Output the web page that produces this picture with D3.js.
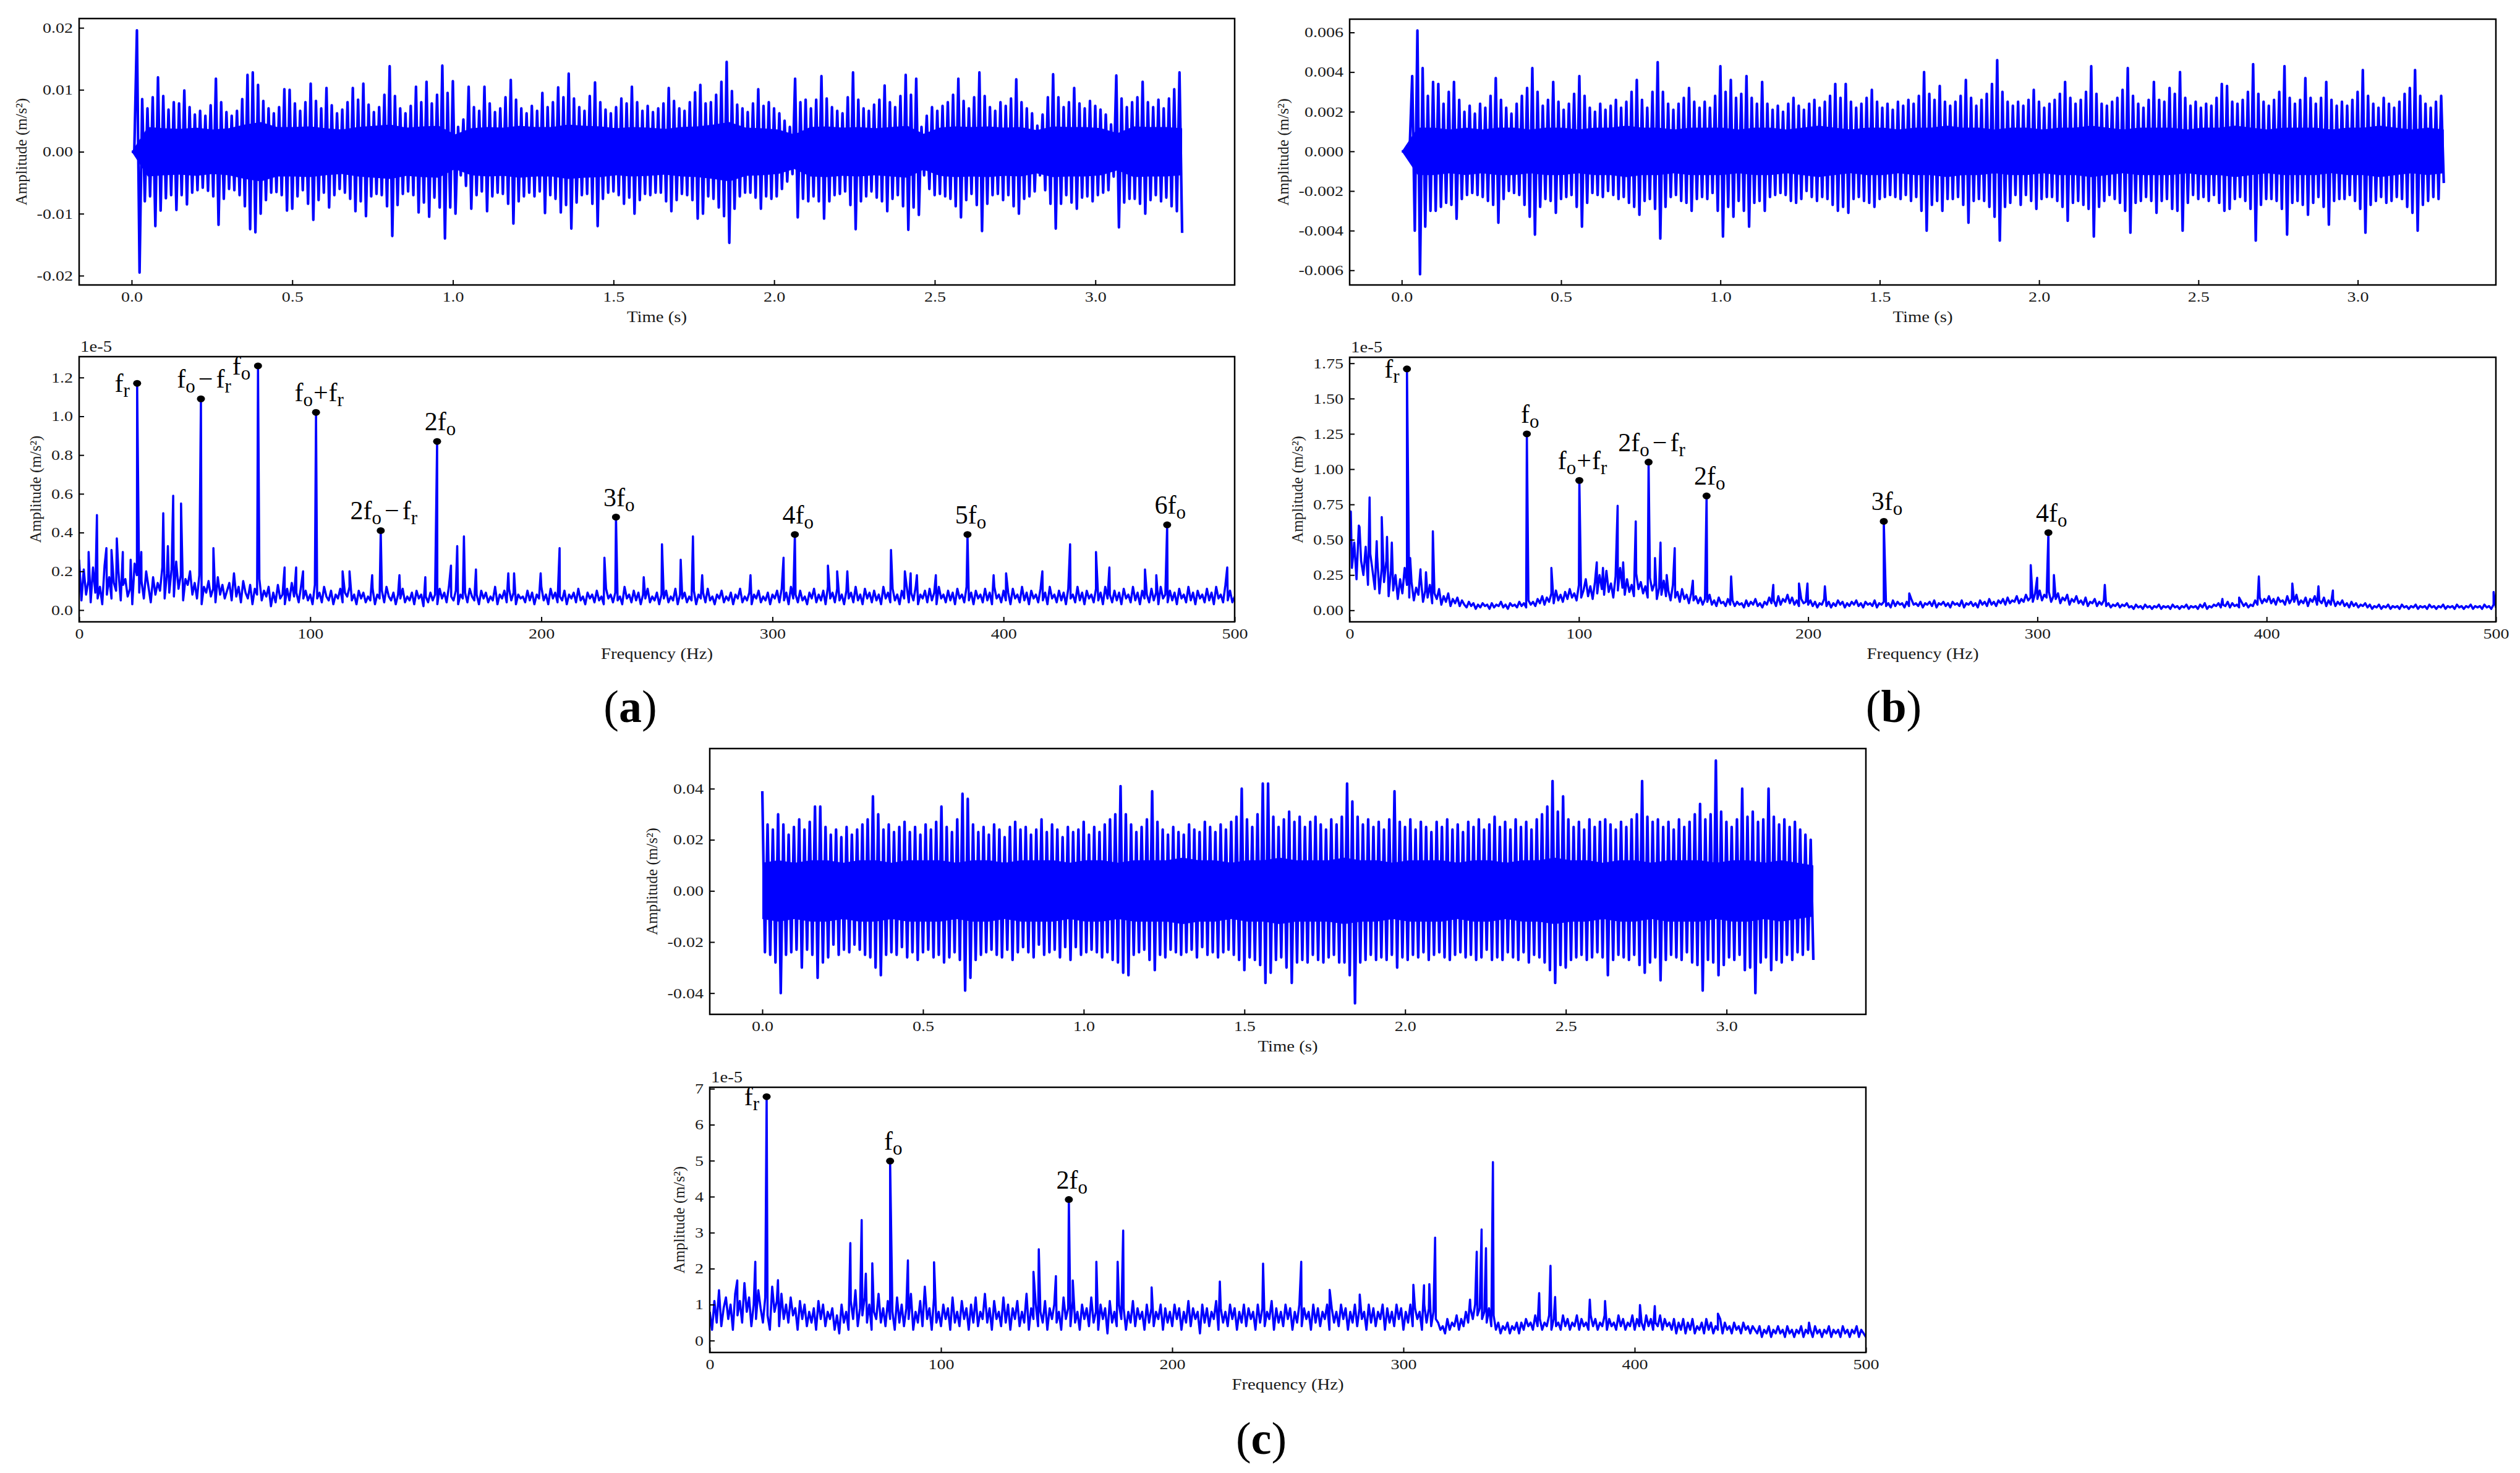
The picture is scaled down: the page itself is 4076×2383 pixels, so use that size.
<!DOCTYPE html>
<html>
<head>
<meta charset="utf-8">
<script src="https://cdn.jsdelivr.net/npm/d3@7"></script>
<style>
  body { margin: 0; background: #fff; }
</style>
</head>
<body>
<div id="chart"></div>
<script>
// Vibration signals (time domain) and their spectra for three cases (a), (b), (c)

var duration = 3.27; // record length (s)

// Tick values
var timeTicks = [0, 0.5, 1, 1.5, 2, 2.5, 3];
var freqTicks = [0, 100, 200, 300, 400, 500];
var yTicksA1 = [-0.02, -0.01, 0, 0.01, 0.02];
var yTicksA2 = [0, 0.2, 0.4, 0.6, 0.8, 1.0, 1.2];
var yTicksB1 = [-0.006, -0.004, -0.002, 0, 0.002, 0.004, 0.006];
var yTicksB2 = [0, 0.25, 0.5, 0.75, 1.0, 1.25, 1.5, 1.75];
var yTicksC1 = [-0.04, -0.02, 0, 0.02, 0.04];
var yTicksC2 = [0, 1, 2, 3, 4, 5, 6, 7];

// (a) time signal: successive peaks, units of 1e-4 m/s2
var timeA = [
  0,0,196,-195,85,-80,70,-72,88,-120,120,-95,90,-75,68,-70,80,-94,78,-70,
  99,-85,72,-66,60,-62,66,-58,58,-63,75,-72,118,-118,80,-76,64,-60,58,-62,
  66,-70,85,-88,124,-125,128,-130,108,-100,82,-78,70,-66,62,-65,72,-70,101,-95,
  100,-92,78,-72,66,-62,80,-84,110,-110,82,-78,70,-66,103,-90,75,-70,62,-60,
  68,-66,80,-76,103,-96,84,-80,110,-104,76,-72,64,-68,72,-70,92,-88,138,-136,
  90,-86,70,-68,62,-64,74,-70,105,-98,80,-82,113,-105,78,-74,92,-90,139,-140,
  95,-90,114,-100,40,-38,52,-55,105,-92,72,-70,66,-64,105,-96,78,-72,64,-66,
  70,-68,88,-84,116,-116,84,-80,70,-72,62,-66,74,-72,66,-64,95,-99,72,-70,
  80,-76,104,-98,88,-86,126,-124,86,-82,72,-70,66,-68,90,-84,112,-120,80,-76,
  68,-66,62,-64,72,-70,86,-84,78,-74,105,-100,80,-78,66,-68,74,-70,64,-66,
  70,-66,78,-80,103,-96,82,-78,70,-68,66,-70,80,-78,96,-108,108,-100,78,-72,
  80,-76,92,-90,113,-104,145,-147,98,-92,76,-72,70,-66,64,-66,78,-74,101,-92,
  74,-72,80,-76,70,-72,62,-60,50,-48,40,-36,118,-106,80,-76,84,-80,70,-72,
  84,-80,122,-108,86,-80,72,-70,66,-68,62,-64,88,-86,128,-125,84,-80,70,-72,
  66,-64,76,-74,84,-80,107,-96,80,-76,72,-70,90,-88,124,-126,92,-90,118,-102,
  40,-38,58,-60,72,-70,66,-68,74,-72,80,-76,92,-88,118,-106,82,-78,70,-68,
  88,-86,128,-128,90,-84,72,-70,66,-68,80,-78,74,-70,86,-88,117,-100,80,-76,
  70,-72,62,-64,42,-38,60,-62,88,-84,125,-124,88,-84,72,-70,80,-82,103,-92,
  78,-74,70,-72,82,-80,74,-70,68,-66,60,-62,44,-40,123,-122,86,-82,72,-76,
  80,-76,88,-84,113,-100,80,-78,72,-70,84,-80,70,-74,86,-88,101,-96,128,-131
];

// (b) time signal, units of 1e-4 m/s2
var timeB = [
  0,0,0,0,38,-40,61,-62,42,-38,28,-30,35,-30,34,-28,24,-26,30,-27,
  35,-34,26,-24,20,-22,23,-21,19,-22,24,-23,22,-25,28,-27,37,-36,26,-24,
  22,-20,19,-21,24,-22,28,-27,32,-33,42,-42,30,-28,23,-24,26,-25,35,-31,
  25,-24,21,-23,24,-22,29,-28,38,-38,28,-26,22,-21,20,-22,24,-23,21,-20,
  23,-22,26,-24,22,-23,25,-26,30,-28,36,-32,26,-25,22,-24,30,-29,45,-44,
  30,-28,24,-23,21,-22,24,-25,27,-26,32,-30,25,-24,22,-23,25,-24,22,-21,
  28,-30,43,-43,30,-28,36,-33,27,-25,29,-30,38,-38,27,-26,24,-25,35,-30,
  24,-23,21,-22,23,-21,20,-22,24,-25,27,-26,23,-24,21,-20,24,-23,26,-25,
  22,-23,25,-24,28,-27,34,-30,27,-28,34,-31,25,-24,22,-23,24,-25,27,-26,
  31,-28,25,-24,22,-23,24,-22,21,-23,25,-24,23,-22,26,-25,24,-23,28,-30,
  40,-40,29,-27,26,-25,33,-30,25,-24,23,-24,25,-23,28,-27,36,-36,27,-25,
  23,-24,26,-25,29,-28,34,-33,46,-45,30,-28,25,-26,23,-22,25,-27,23,-22,
  26,-25,31,-29,25,-24,22,-23,24,-23,26,-25,29,-28,35,-35,27,-26,24,-25,
  26,-27,30,-29,43,-43,29,-28,24,-25,23,-22,25,-24,27,-26,31,-30,42,-41,
  28,-26,24,-25,22,-23,26,-25,35,-31,26,-25,25,-24,32,-29,29,-30,40,-40,
  27,-26,23,-22,25,-24,22,-23,24,-25,23,-22,27,-26,34,-30,33,-29,25,-24,
  24,-23,26,-25,30,-29,44,-45,29,-27,25,-24,23,-24,26,-25,30,-29,43,-42,
  27,-26,24,-25,26,-27,37,-32,27,-26,24,-23,27,-28,35,-37,26,-25,23,-24,
  25,-24,23,-22,26,-25,30,-29,41,-41,28,-27,24,-25,22,-23,27,-26,24,-25,
  22,-23,25,-24,29,-28,32,-31,41,-40,28,-27,24,-25,22,-23,25,-24,28,-16
];

// (c) time signal, units of 1e-3 m/s2
var timeC = [
  39,-24,26,-25,24,-28,30,-40,26,-25,22,-24,25,-23,28,-30,24,-23,27,-25,
  33,-34,33,-28,25,-26,22,-21,24,-25,21,-23,25,-24,22,-21,24,-23,26,-25,
  28,-26,37,-30,30,-33,24,-25,26,-24,23,-25,25,-22,27,-26,23,-24,25,-27,
  22,-24,26,-23,24,-26,27,-25,33,-28,25,-26,23,-24,28,-27,38,-39,36,-34,
  26,-27,23,-25,25,-24,22,-23,26,-25,24,-26,21,-23,25,-27,27,-24,24,-22,
  25,-24,22,-26,24,-21,28,-25,23,-24,26,-23,24,-26,21,-22,25,-27,23,-22,
  24,-25,27,-24,22,-23,25,-24,23,-26,26,-24,28,-27,30,-28,41,-32,30,-33,
  26,-25,23,-24,25,-23,28,-27,39,-31,27,-25,24,-26,22,-23,25,-24,23,-25,
  22,-24,26,-23,24,-26,23,-22,27,-25,25,-24,23,-26,26,-24,24,-23,27,-25,
  29,-27,40,-31,28,-26,25,-27,30,-29,42,-36,42,-32,29,-27,25,-26,28,-30,
  31,-36,27,-28,29,-27,25,-28,27,-25,29,-27,26,-28,24,-26,28,-25,26,-28,
  29,-28,42,-33,35,-44,29,-28,26,-27,28,-25,25,-27,27,-26,24,-27,28,-25,
  39,-30,27,-26,25,-27,28,-25,24,-26,27,-24,25,-27,23,-25,27,-24,25,-26,
  28,-27,24,-25,26,-24,23,-26,27,-25,25,-27,28,-26,24,-23,26,-27,29,-26,
  25,-27,27,-24,24,-26,28,-27,25,-24,27,-28,24,-25,28,-26,30,-28,33,-31,
  43,-36,31,-29,37,-30,28,-27,25,-26,27,-25,24,-27,28,-26,25,-24,27,-26,
  28,-33,26,-27,24,-25,27,-26,25,-27,28,-25,30,-29,43,-32,29,-28,27,-26,
  28,-35,25,-27,27,-25,24,-26,28,-27,25,-24,27,-28,30,-29,34,-39,28,-27,
  30,-28,51,-33,31,-29,27,-26,25,-27,28,-25,40,-31,29,-30,31,-40,27,-28,
  28,-26,40,-31,29,-27,26,-28,28,-25,25,-27,27,-24,24,-25,22,-23,20,-27
];

// Half-width of the solid, densely sampled core of each signal (every ~0.05 s), same units
var coreA = [
  0,40,38,37,39,36,38,44,48,40,40,
  41,38,36,40,42,44,39,41,42,28,38,
  40,39,42,40,40,44,42,41,38,40,39,
  37,40,41,44,48,39,38,36,28,40,41,
  39,40,38,40,42,29,39,41,40,41,39,
  40,35,41,40,40,38,30,41,40,40,38
];
var coreB = [
  0,12,12,11,12,11,12,12,11,12,12,
  11,12,12,13,12,12,11,12,12,12,11,
  12,12,11,12,13,12,11,12,12,11,12,
  12,13,12,12,11,12,12,11,12,12,13,
  12,11,12,12,12,11,12,12,13,12,11,
  12,12,12,11,12,12,13,12,11,12,11
];
var coreC = [
  11,12,11,12,12,11,12,12,11,12,12,
  12,11,12,12,11,12,12,12,11,12,12,
  11,12,12,12,13,12,12,11,12,12,13,
  12,12,12,13,12,12,11,12,12,12,11,
  12,12,11,12,12,13,12,12,11,12,12,
  11,12,12,12,11,12,12,11,12,11,10
];

// Spectrum noise floor, one value per Hz from 0 to 500 Hz
// (a) units of 0.01e-5 m/s2
var floorA = [
  26,5,21,8,15,4,22,9,6,12, 3,23,8,17,6,14,10,20,5,13, 16,7,11,3,24,18,9,15,6,20, 12,4,17,8,14,10,22,6,19,9, 21,7,25,11,18,5,16,13,20,8,
  14,6,18,3,12,9,15,7,11,4, 17,8,13,6,10,14,5,19,7,12, 4,15,9,6,13,3,11,8,16,5, 10,7,12,2,9,4,13,6,8,3, 11,5,14,7,9,4,12,6,10,5,
  8,3,13,6,9,4,12,7,5,10, 3,8,6,11,4,9,7,12,5,8, 3,10,6,9,4,7,5,11,3,8, 6,10,4,12,7,5,9,3,8,6, 11,4,7,5,9,3,10,6,8,2,
  7,4,9,5,8,3,11,6,9,4, 12,7,5,10,3,8,6,9,4,11, 7,5,8,3,10,6,9,4,7,5, 12,3,8,6,10,4,11,5,9,3, 8,6,7,4,10,5,9,3,8,6,
  12,5,8,3,11,6,9,4,7,5, 10,3,8,6,9,4,11,5,7,3, 9,6,8,4,10,5,7,3,11,6, 8,4,9,5,7,3,12,6,8,4, 10,5,9,3,8,6,11,4,7,5,
  9,3,8,6,10,4,7,5,11,3, 8,6,9,4,7,5,10,3,8,6, 9,4,11,5,7,3,8,6,10,4, 7,5,9,3,8,6,11,4,7,5, 9,3,8,6,10,4,7,5,9,3,
  8,6,10,4,11,5,9,3,12,6, 8,4,10,5,7,3,9,6,11,4, 8,5,10,3,12,6,9,4,11,5, 8,3,10,6,9,4,12,5,8,3, 11,6,9,4,10,5,8,3,12,6,
  9,4,11,5,8,3,10,6,13,4, 9,5,12,3,8,6,10,4,11,5, 9,3,12,6,8,4,10,5,9,3, 11,6,8,4,12,5,9,3,10,6, 8,4,11,5,9,3,12,6,8,4,
  10,5,9,3,11,6,8,4,12,5, 9,3,10,6,8,4,11,5,9,3, 12,6,8,4,10,5,9,3,11,6, 8,4,12,5,9,3,10,6,8,4, 11,5,9,3,12,6,8,4,10,5,
  9,3,11,6,8,4,12,5,9,3, 10,6,8,4,11,5,9,3,12,6, 8,4,10,5,9,3,11,6,8,4, 12,5,9,3,10,6,8,4,11,5, 9,3,12,6,8,4,13,5,10,4,
  7
];

// (b) units of 0.01e-5 m/s2
var floorB = [
  55,30,48,22,60,35,25,45,18,40, 28,15,38,12,30,20,35,10,28,14, 25,8,22,12,30,18,9,20,7,16, 11,24,6,14,9,18,5,12,8,15, 4,10,6,12,3,8,5,9,3,7,
  4,2,6,3,5,1,4,2,5,3, 4,1,5,2,4,3,6,2,4,1, 5,3,4,2,6,3,5,2,7,4, 6,3,8,5,10,4,9,6,12,5, 14,7,11,6,13,8,15,9,12,7,
  18,9,14,22,10,17,8,20,12,25, 15,11,28,13,19,9,24,14,30,16, 11,22,13,18,10,26,15,20,12,17, 9,23,14,19,8,16,11,21,10,14, 7,18,9,13,6,15,8,11,5,12,
  7,10,5,9,4,8,6,11,4,7, 3,9,5,6,3,8,4,7,3,6, 4,5,2,7,3,6,4,8,3,5, 2,6,4,9,5,7,3,10,4,8, 6,11,5,9,4,7,3,8,5,6,
  4,7,3,6,2,5,4,8,3,6, 2,5,3,7,4,6,2,5,3,6, 4,7,3,5,2,6,4,5,3,7, 2,5,4,6,3,5,2,7,3,6, 4,5,2,6,3,8,4,5,3,6,
  2,5,4,6,3,7,2,5,4,6, 3,5,2,6,4,5,3,7,2,5, 4,6,3,5,2,7,4,6,3,8, 4,6,3,7,5,8,4,9,5,7, 6,10,5,8,6,11,7,9,6,12,
  8,14,7,11,9,13,6,10,8,12, 5,9,7,11,4,8,6,10,5,7, 4,9,3,6,5,8,3,6,4,7, 3,5,2,4,3,5,2,4,3,5, 2,3,1,4,2,3,1,4,2,3,
  1,3,2,4,1,3,2,3,1,4, 2,3,1,3,2,4,1,3,2,3, 1,4,2,5,1,3,2,4,3,5, 2,4,3,6,2,5,3,4,2,6, 3,5,2,4,3,7,4,9,5,8,
  6,10,5,8,4,9,6,7,4,10, 5,8,6,11,4,7,5,9,3,8, 6,10,4,7,5,9,3,7,4,8, 3,6,4,7,3,5,2,6,3,5, 2,4,3,5,2,4,1,3,2,4,
  1,3,2,4,1,3,2,3,1,4, 2,3,1,3,2,4,1,3,2,3, 1,4,2,3,1,3,2,4,1,3, 2,3,1,4,2,3,1,3,2,4, 1,3,2,3,1,4,2,3,1,4,
  2
];

// (c) units of 0.1e-5 m/s2
var floorC = [
  8,3,11,5,14,4,9,12,6,10, 3,13,7,11,5,16,8,12,4,10, 6,14,9,5,12,7,3,15,8,11, 4,13,6,10,5,12,7,9,3,11, 6,10,4,8,5,9,3,11,6,10,
  4,8,6,9,3,7,2,10,5,8, 3,11,6,14,4,9,7,12,5,10, 3,8,6,13,5,9,4,11,6,8, 3,12,5,10,4,9,6,13,3,8, 5,11,4,15,6,9,3,12,5,8,
  4,10,6,9,3,12,5,8,4,11, 6,9,3,10,5,12,4,8,6,13, 5,9,3,11,6,8,4,12,5,10, 3,9,6,11,4,8,5,13,3,9, 6,10,4,8,5,11,3,9,6,10,
  5,8,3,12,6,9,4,11,5,8, 3,10,6,9,4,12,5,8,3,10, 6,9,2,11,5,8,4,10,6,9, 3,8,5,11,4,9,6,8,3,10, 5,9,4,8,6,10,3,9,5,8,
  4,10,6,9,3,8,5,11,4,9, 6,8,2,10,5,9,4,8,6,11, 3,9,5,8,4,10,6,9,3,8, 5,10,4,9,6,8,3,10,5,9, 4,8,6,11,3,9,5,8,4,10,
  6,9,3,8,5,10,4,9,6,8, 3,10,5,9,4,8,6,10,3,9, 5,8,4,10,6,9,3,8,5,10, 4,9,6,8,3,10,5,9,4,8, 6,10,3,9,5,8,4,10,6,9,
  3,8,5,10,4,9,6,8,3,10, 5,9,4,8,6,5,3,4,2,6, 3,5,4,7,3,6,4,8,5,9, 6,10,7,9,6,8,5,9,4,7, 3,5,2,4,3,5,2,4,3,5,
  2,5,3,6,4,5,3,7,4,6, 3,5,4,7,3,6,4,5,3,7, 4,6,3,5,4,7,3,6,4,5, 3,7,4,6,3,5,4,7,3,6, 4,5,3,7,4,6,3,5,4,7,
  3,6,4,5,3,7,4,6,3,5, 4,7,3,6,4,5,3,6,2,5, 3,6,2,5,3,6,2,4,3,5, 2,6,3,5,2,4,3,6,2,5, 3,4,2,5,3,4,2,5,3,4,
  2,4,3,2,4,1,3,2,4,1, 3,2,4,2,3,1,4,2,3,1, 3,2,4,1,3,2,3,1,4,2, 3,1,3,2,4,1,3,2,3,1, 4,2,3,1,3,2,4,1,3,2,
  1
];

// Spectral peaks [frequency (Hz), amplitude (1e-5 m/s2)]
var peaksA = [
  [4.1,0.30],[7.7,0.49],[11.8,0.32],[14.0,0.31],[16.3,0.37],[18.9,0.30],[22.3,0.26],[25.1,1.17],[26.9,0.30],
  [36.4,0.50],[38.4,0.33],[40.7,0.59],[44.1,0.55],[52.7,1.09],[58.1,0.32],[77.4,1.26],[88.9,0.22],[93.9,0.22],
  [96.9,0.20],[102.5,1.02],[114,0.20],[117,0.20],[126.8,0.18],[130.5,0.41],[138.6,0.18],[149.8,0.17],[154.9,0.87],
  [160.9,0.23],[163.6,0.33],[166.5,0.38],[171.7,0.21],[185.7,0.19],[188.2,0.19],[199.7,0.19],[207.9,0.32],
  [227.3,0.27],[232.3,0.48],[244.3,0.17],[252.2,0.34],[260.3,0.26],[265.6,0.38],[269.6,0.18],[290.5,0.18],
  [304.8,0.27],[309.7,0.39],[324,0.23],[328,0.20],[332.4,0.20],[351.3,0.31],[357.3,0.20],[359.8,0.19],
  [362.5,0.18],[370.7,0.18],[384.4,0.39],[395.7,0.18],[401.1,0.19],[416.8,0.20],[428.8,0.34],[440,0.30],
  [445.8,0.22],[461.2,0.21],[466.1,0.18],[470.8,0.44],[496.8,0.22]
];
var peaksB = [
  [0.5,0.70],[4.3,0.59],[8.7,0.80],[11.8,0.49],[14.0,0.66],[16.3,0.52],[18.4,0.48],[25.0,1.71],[26.4,0.37],
  [30.9,0.29],[33.3,0.27],[36.3,0.56],[77.3,1.25],[88.0,0.30],[100.2,0.92],[107.8,0.34],[110.5,0.30],
  [116.9,0.74],[119.3,0.34],[124.8,0.63],[130.4,1.05],[133.2,0.37],[135.6,0.48],[138.3,0.25],[141.8,0.44],
  [149.7,0.21],[155.7,0.81],[166.4,0.24],[184.8,0.18],[196.0,0.19],[199.7,0.19],[207.3,0.17],[233.0,0.63],
  [244.1,0.12],[297.1,0.32],[299.9,0.23],[304.8,0.55],[307.2,0.25],[329.4,0.18],[380.7,0.08],[388.0,0.09],
  [396.6,0.24],[411.2,0.19],[422.6,0.17],[428.9,0.14],[499.0,0.13]
];
var peaksC = [
  [11.9,1.67],[19.7,2.19],[24.6,6.78],[29.5,1.68],[60.8,2.71],[65.7,3.35],[67.5,1.86],[70.3,2.15],[78.0,4.99],
  [85.7,2.23],[97.0,2.18],[140.0,1.91],[142.3,2.54],[149.7,1.79],[155.3,3.92],[157.0,1.67],[167.2,2.19],
  [176.4,2.19],[178.8,3.06],[191.1,1.48],[220.6,1.64],[239.3,2.14],[255.8,2.19],[268.1,1.41],[281.1,1.28],
  [304.3,1.55],[308.9,1.54],[311.2,1.57],[313.7,2.86],[328.8,1.14],[331.7,2.47],[333.8,3.09],[335.7,2.57],
  [338.7,4.96],[358.7,1.32],[363.6,2.08],[365.6,1.21],[380.6,1.14],[387.2,1.10],[402.3,0.99],[408.7,0.96],
  [436.0,0.75],[475.4,0.50]
];

// Labelled characteristic frequencies [label, frequency]; "_x" marks a subscript
var marksA = [["f_r",25.1],["f_o−f_r",52.7],["f_o",77.4],["f_o+f_r",102.5],["2f_o−f_r",130.5],
  ["2f_o",154.9],["3f_o",232.3],["4f_o",309.7],["5f_o",384.4],["6f_o",470.8]];
var marksB = [["f_r",25.0],["f_o",77.3],["f_o+f_r",100.2],["2f_o−f_r",130.4],["2f_o",155.7],["3f_o",233.0],["4f_o",304.8]];
var marksC = [["f_r",24.6],["f_o",78.0],["2f_o",155.3]];

// ---------------------------------------------------------------------------
var W = 4076, H = 2383;
var serif = "'Liberation Serif', 'Times New Roman', Times, serif";
var blue = "#0000ff";

var svg = d3.select("#chart")
  .append("svg")
  .attr("width", W)
  .attr("height", H)
  .style("display", "block");

svg.append("rect").attr("width", W).attr("height", H).attr("fill", "#fff");

// plot boxes in page pixels
var boxA1 = {x0: 128, x1: 1997, y0: 30, y1: 461};
var boxA2 = {x0: 128, x1: 1997, y0: 577, y1: 1006};
var boxB1 = {x0: 2183, x1: 4037, y0: 31, y1: 461};
var boxB2 = {x0: 2183, x1: 4037, y0: 578, y1: 1006};
var boxC1 = {x0: 1148, x1: 3018, y0: 1211, y1: 1641};
var boxC2 = {x0: 1148, x1: 3018, y0: 1759, y1: 2188};

// number formats with a plain hyphen for negatives
function fmt(spec) {
  var f = d3.format(spec);
  return function(v) { return f(v).replace("\u2212", "-"); };
}

// the figure's lettering is slightly wide; stretch text horizontally
function stretch(sel, k) {
  sel.each(function() {
    var w = this.getComputedTextLength();
    d3.select(this).attr("textLength", w * k).attr("lengthAdjust", "spacingAndGlyphs");
  });
}

var clipCount = 0;
function clipFor(p) {
  var id = "clip" + (clipCount++);
  svg.append("clipPath").attr("id", id)
    .append("rect")
    .attr("x", p.x0).attr("y", p.y0)
    .attr("width", p.x1 - p.x0).attr("height", p.y1 - p.y0);
  return id;
}

function drawAxes(p, x, y, opt) {
  var g = svg.append("g");

  var xg = g.append("g")
    .attr("transform", `translate(0, ${p.y1})`)
    .call(d3.axisBottom(x).tickValues(opt.xTicks).tickFormat(opt.xFmt)
      .tickSizeInner(-8).tickSizeOuter(0).tickPadding(11));

  var yg = g.append("g")
    .attr("transform", `translate(${p.x0}, 0)`)
    .call(d3.axisLeft(y).tickValues(opt.yTicks).tickFormat(opt.yFmt)
      .tickSizeInner(-8).tickSizeOuter(0).tickPadding(10));

  [xg, yg].forEach(function(a) {
    a.select(".domain").remove();
    a.attr("font-family", serif).attr("font-size", 23);
    a.selectAll("line").attr("stroke", "#000").attr("stroke-width", 2);
    a.selectAll("text").attr("fill", "#1a1a1a").call(stretch, 1.22);
  });

  // frame
  g.append("rect")
    .attr("x", p.x0).attr("y", p.y0)
    .attr("width", p.x1 - p.x0).attr("height", p.y1 - p.y0)
    .attr("fill", "none")
    .attr("stroke", "#000")
    .attr("stroke-width", 2.5);

  // x-axis title
  g.append("text")
    .attr("x", (p.x0 + p.x1) / 2)
    .attr("y", p.y1 + 60)
    .attr("text-anchor", "middle")
    .attr("font-family", serif)
    .attr("font-size", 25)
    .attr("fill", "#1a1a1a")
    .text(opt.xTitle)
    .call(stretch, 1.15);

  // y-axis title, just left of the tick labels
  var left = d3.min(yg.selectAll("text").nodes(), function(n) { return n.getBBox().x; });
  g.append("text")
    .attr("transform", `translate(${p.x0 + left - 25}, ${(p.y0 + p.y1) / 2}) rotate(-90)`)
    .attr("text-anchor", "middle")
    .attr("dominant-baseline", "central")
    .attr("font-family", serif)
    .attr("font-size", 25)
    .attr("fill", "#1a1a1a")
    .text("Amplitude (m/s\u00b2)");

  // offset text for the spectra
  if (opt.offset) {
    g.append("text")
      .attr("x", p.x0 + 2)
      .attr("y", p.y0 - 8)
      .attr("font-family", serif)
      .attr("font-size", 25)
      .attr("fill", "#1a1a1a")
      .text(opt.offset)
      .call(stretch, 1.15);
  }
}

function timePanel(p, values, core, unit, yDomain, yTicks, yFmt) {
  var x = d3.scaleLinear().domain([-0.05 * duration, 1.05 * duration]).range([p.x0, p.x1]);
  var y = d3.scaleLinear().domain(yDomain).range([p.y1, p.y0]);
  var clip = clipFor(p);

  // dense core of the record
  var m = core.length;
  svg.append("path")
    .datum(core)
    .attr("clip-path", `url(#${clip})`)
    .attr("fill", blue)
    .attr("d", d3.area()
      .x((d, i) => x(i * duration / (m - 1)))
      .y0(d => y(-d * unit))
      .y1(d => y(d * unit)));

  // peaks
  var n = values.length;
  var pts = values.map(function(v, i) { return [i * duration / (n - 1), v * unit]; });
  svg.append("path")
    .datum(pts)
    .attr("clip-path", `url(#${clip})`)
    .attr("fill", "none")
    .attr("stroke", blue)
    .attr("stroke-width", 4.2)
    .attr("stroke-linejoin", "round")
    .attr("d", d3.line().x(d => x(d[0])).y(d => y(d[1])));

  drawAxes(p, x, y, {xTicks: timeTicks, xFmt: fmt(".1f"), yTicks: yTicks, yFmt: yFmt, xTitle: "Time (s)"});
}

// label such as "2f_o−f_r" with subscripts
function addMark(g, label, cx, cy, side) {
  var t = g.append("text")
    .attr("font-family", serif)
    .attr("font-size", 42)
    .attr("fill", "#000");
  var chars = [], i = 0;
  while (i < label.length) {
    if (label[i] === "_") { chars.push({c: label[i + 1], sub: true}); i += 2; }
    else { chars.push({c: label[i], sub: false}); i += 1; }
  }
  var low = false;
  chars.forEach(function(ch, k) {
    var ts = t.append("tspan").text(ch.c);
    if (ch.sub) {
      ts.attr("font-size", 31);
      if (!low) ts.attr("dy", 8);
      low = true;
    } else if (low) {
      ts.attr("dy", -8);
      low = false;
    }
    var prev = k > 0 ? chars[k - 1].c : "";
    if (ch.c === "−" || prev === "−") ts.attr("dx", 5);
    if (ch.c === "+" || prev === "+") ts.attr("dx", 1);
  });
  if (side === "left") {
    t.attr("x", cx - 12).attr("y", cy + 14).attr("text-anchor", "end");
  } else {
    t.attr("x", cx + 5).attr("y", cy - 18).attr("text-anchor", "middle");
  }
}

function specPanel(p, floor, floorUnit, peaks, marks, leftMarks, yDomain, yTicks, yFmt) {
  var x = d3.scaleLinear().domain([0, 500]).range([p.x0, p.x1]);
  var y = d3.scaleLinear().domain(yDomain).range([p.y1, p.y0]);

  var pts = floor.map(function(v, i) { return [i, v * floorUnit]; })
    .concat(peaks.map(function(d) { return [d[0], d[1]]; }));
  pts.sort(function(a, b) { return a[0] - b[0]; });

  svg.append("path")
    .datum(pts)
    .attr("clip-path", `url(#${clipFor(p)})`)
    .attr("fill", "none")
    .attr("stroke", blue)
    .attr("stroke-width", 3.5)
    .attr("stroke-linejoin", "round")
    .attr("d", d3.line().x(d => x(d[0])).y(d => y(d[1])));

  drawAxes(p, x, y, {xTicks: freqTicks, xFmt: fmt("d"), yTicks: yTicks, yFmt: yFmt,
    xTitle: "Frequency (Hz)", offset: "1e-5"});

  var g = svg.append("g");
  marks.forEach(function(m) {
    var pk = peaks.find(function(d) { return d[0] === m[1]; });
    var cx = x(pk[0]), cy = y(pk[1]);
    g.append("ellipse")
      .attr("cx", cx).attr("cy", cy)
      .attr("rx", 6.5).attr("ry", 5.5)
      .attr("fill", "#000");
    addMark(g, m[0], cx, cy, leftMarks.indexOf(m[0]) >= 0 ? "left" : "above");
  });
}

// ---------------------------------------------------------------------------
timePanel(boxA1, timeA, coreA, 1e-4, [-0.0215, 0.0215], yTicksA1, fmt(".2f"));
specPanel(boxA2, floorA, 0.01, peaksA, marksA, ["f_r", "f_o"], [-0.0606, 1.3077], yTicksA2, fmt(".1f"));

timePanel(boxB1, timeB, coreB, 1e-4, [-0.00674, 0.00667], yTicksB1, fmt(".3f"));
specPanel(boxB2, floorB, 0.01, peaksB, marksB, ["f_r"], [-0.0818, 1.7926], yTicksB2, fmt(".2f"));

timePanel(boxC1, timeC, coreC, 1e-3, [-0.0483, 0.0557], yTicksC1, fmt(".2f"));
specPanel(boxC2, floorC, 0.1, peaksC, marksC, ["f_r"], [-0.33, 7.04], yTicksC2, fmt("d"));

// sub-figure captions: regular parentheses around a bold letter
var captions = [["a", (boxA2.x0 + boxA2.x1) / 2 - 43, 1168],
                ["b", (boxB2.x0 + boxB2.x1) / 2 - 47, 1168],
                ["c", (boxC2.x0 + boxC2.x1) / 2 - 43, 2352]];
var cap = svg.selectAll("text.caption")
  .data(captions)
  .enter()
  .append("text")
  .attr("class", "caption")
  .attr("x", d => d[1])
  .attr("y", d => d[2])
  .attr("text-anchor", "middle")
  .attr("font-family", serif)
  .attr("font-size", 74)
  .attr("fill", "#000");
cap.append("tspan").text("(");
cap.append("tspan").attr("font-weight", "bold").text(d => d[0]);
cap.append("tspan").text(")");
</script>
</body>
</html>
